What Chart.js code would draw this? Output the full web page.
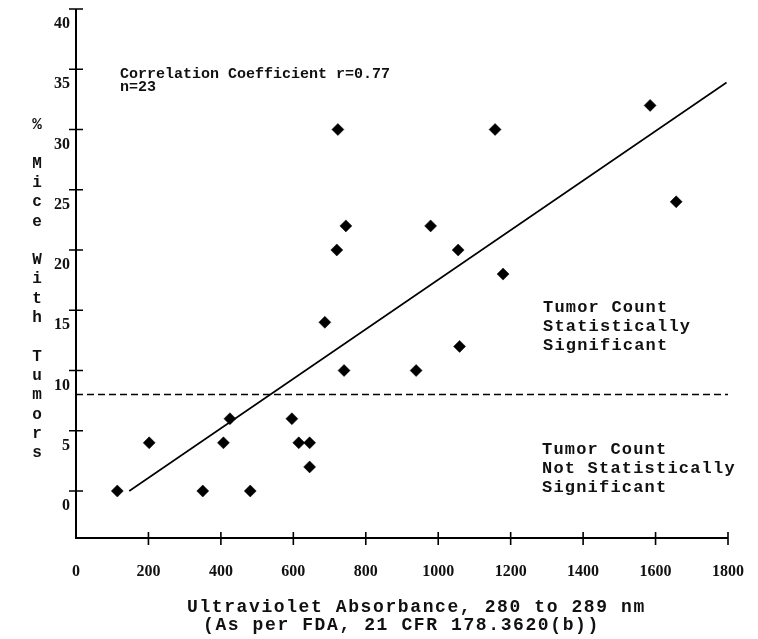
<!DOCTYPE html>
<html>
<head>
<meta charset="utf-8">
<script src="https://cdn.jsdelivr.net/npm/chart.js@4.4.0/dist/chart.umd.min.js"></script>
<style>
html,body{margin:0;padding:0;background:#fff;}
#wrap{width:758px;height:639px;position:relative;}
</style>
</head>
<body>
<div id="wrap"><canvas id="c"></canvas></div>
<script>
// ---- data ----
const absorbance = [114,202,350,407,425,481,596,615,645,645,687,720,745,740,939,979,1055,1059,1179,723,1157,1585,1657];
const tumorPct   = [0,4,0,4,6,0,6,4,4,2,14,20,22,10,10,22,20,12,18,30,30,32,24];
const trendX = [147,1796];
const trendY = [0,33.9];
const thresholdX = [0,1800];
const thresholdY = [8,8];
const xTicks = [0,200,400,600,800,1000,1200,1400,1600,1800];
const yTicks = [0,5,10,15,20,25,30,35,40];
const yTitle = "% Mice With Tumors";
const xTitle = ["Ultraviolet Absorbance, 280 to 289 nm", "(As per FDA, 21 CFR 178.3620(b))"];
const noteCorr = ["Correlation Coefficient r=0.77", "n=23"];
const noteSig = ["Tumor Count", "Statistically", "Significant"];
const noteNotSig = ["Tumor Count", "Not Statistically", "Significant"];

const pts = (xs, ys) => xs.map((v, i) => ({x: v, y: ys[i]}));
const INK = '#111';
const MONO = '"Liberation Mono", "DejaVu Sans Mono", monospace';

const decor = {
  id: 'decor',
  afterDraw(chart) {
    const {ctx, scales: {x, y}, chartArea} = chart;
    ctx.save();
    // axes
    const x0 = x.getPixelForValue(0), x1 = x.getPixelForValue(1800);
    const yTop = y.getPixelForValue(40), yBot = chartArea.bottom;
    ctx.strokeStyle = '#000';
    ctx.lineWidth = 2;
    ctx.beginPath();
    ctx.moveTo(x0, yTop); ctx.lineTo(x0, yBot); ctx.lineTo(x1, yBot);
    ctx.stroke();
    ctx.lineWidth = 1.6;
    ctx.beginPath();
    yTicks.forEach(v => { const p = y.getPixelForValue(v); ctx.moveTo(x0 - 7, p); ctx.lineTo(x0 + 7, p); });
    xTicks.forEach(v => { if (v === 0) return; const p = x.getPixelForValue(v); ctx.moveTo(p, yBot - 6); ctx.lineTo(p, yBot + 7); });
    ctx.stroke();

    ctx.fillStyle = INK;
    ctx.textBaseline = 'middle';
    // y title, stacked letters
    ctx.font = 'bold 16px ' + MONO;
    ctx.textAlign = 'center';
    const lines = [];
    yTitle.split(' ').forEach((w, i) => { if (i) lines.push(''); w.split('').forEach(ch => lines.push(ch)); });
    lines.forEach((ch, i) => { if (ch) ctx.fillText(ch, 37, 125 + i * 19.3); });

    // x title
    ctx.textAlign = 'left';
    ctx.font = 'bold 18px ' + MONO;
    ctx.letterSpacing = '1.6px';
    ctx.fillText(xTitle[0], 187, 607);
    ctx.fillText(xTitle[1], 203, 625);

    // notes
    ctx.letterSpacing = '0px';
    ctx.font = 'bold 15px ' + MONO;
    noteCorr.forEach((t, i) => ctx.fillText(t, 120, 74 + i * 13.5));
    ctx.font = 'bold 17px ' + MONO;
    ctx.letterSpacing = '1.2px';
    noteSig.forEach((t, i) => ctx.fillText(t, 543, 308 + i * 19));
    noteNotSig.forEach((t, i) => ctx.fillText(t, 542, 450 + i * 19));
    ctx.restore();
  }
};

const tickFont = {family: '"Liberation Serif", serif', size: 16, weight: 'bold'};

new Chart(document.getElementById('c'), {
  type: 'scatter',
  data: {
    datasets: [
      {label: 'threshold', type: 'line', data: pts(thresholdX, thresholdY), borderColor: '#000', borderWidth: 1.5, borderDash: [7, 4], pointRadius: 0, fill: false, order: 3},
      {label: 'trend', type: 'line', data: pts(trendX, trendY), borderColor: '#000', borderWidth: 1.6, pointRadius: 0, fill: false, order: 2},
      {label: 'samples', data: pts(absorbance, tumorPct), pointStyle: 'rectRot', pointRadius: 6, backgroundColor: '#000', borderColor: '#000', borderWidth: 0.5, order: 1}
    ]
  },
  options: {
    responsive: true,
    maintainAspectRatio: false,
    animation: false,
    layout: {padding: {top: 9, right: 30, left: 0, bottom: 0}},
    plugins: {legend: {display: false}, tooltip: {enabled: false}},
    scales: {
      x: {
        type: 'linear', min: 0, max: 1800,
        grid: {display: false, drawTicks: false},
        border: {display: false},
        afterBuildTicks: s => { s.ticks = xTicks.map(v => ({value: v})); },
        afterFit: s => { s.height = 101; s.paddingLeft = 0; s.paddingRight = 0; },
        ticks: {padding: 24, autoSkip: false, maxRotation: 0, color: INK, font: tickFont,
          callback: v => String(v)}
      },
      y: {
        type: 'linear', min: -3.9, max: 40,
        grid: {display: false, drawTicks: false},
        border: {display: false},
        afterBuildTicks: s => { s.ticks = yTicks.map(v => ({value: v})); },
        afterFit: s => { s.width = 76; s.paddingTop = 0; s.paddingBottom = 0; },
        ticks: {padding: 6, labelOffset: 15, color: INK, font: tickFont,
          callback: v => String(v)}
      }
    }
  },
  plugins: [decor]
});
</script>
</body>
</html>
